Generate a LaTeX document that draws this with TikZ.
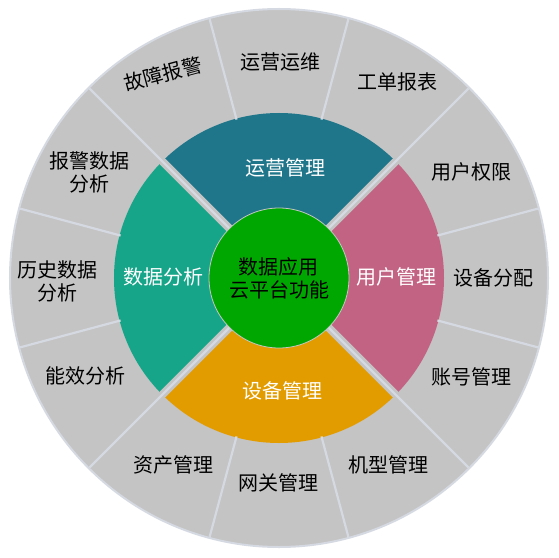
\documentclass[tikz,border=0pt]{standalone}
\usepackage{fontspec}
\setmainfont{Noto Sans CJK SC}
\usepackage{tikz}

\definecolor{ringgray}{HTML}{C4C4C4}
\definecolor{divline}{HTML}{D5D9E1}
\definecolor{opsblue}{HTML}{1F768A}
\definecolor{userpink}{HTML}{C36384}
\definecolor{devorange}{HTML}{E39C00}
\definecolor{datateal}{HTML}{17A589}
\definecolor{coregreen}{HTML}{00A700}

\begin{document}
\begin{tikzpicture}[x=1pt,y=1pt,
    outlabel/.style={font=\fontsize{20}{23}\selectfont, align=center, text=black},
    midlabel/.style={font=\fontsize{20}{23}\selectfont, text=white},
    divider/.style={draw=divline, line width=2.2pt}]
    \useasboundingbox (-279,-279) rectangle (280,278);
    % outer ring
    \fill[ringgray] (0,0) circle[radius=269];
    \draw[divline, line width=2pt] (0,0) circle[radius=269];
    % middle sectors
    \foreach \a/\c in {45/opsblue, -45/userpink, 225/devorange, 135/datateal} {
        \fill[\c] (0,0) -- (\a:165) arc[start angle=\a, end angle=\a+90, radius=165] -- cycle;
    }
    \foreach \a in {45,135,225,315} {
        \draw[ringgray, line width=8pt] (0,0) -- (\a:168);
        \draw[divider] (0,0) -- (\a:268);
    }
    \foreach \a in {15,75,105,165,195,255,285,345}
        \draw[divider] (\a:164) -- (\a:268);
    % core
    \node[circle, fill=coregreen, draw=gray!45, line width=0.8pt, minimum size=140pt,
        inner sep=0pt, align=center, font=\fontsize{20}{23}\selectfont] (core) at (0,0) {数据应用\\云平台功能};
    % middle labels
    \foreach \x/\y/\t/\n in {6/110/运营管理/ops, 117/1/用户管理/user, 3/-113/设备管理/dev, -115/1/数据分析/data}
        \node[midlabel] (\n) at (\x,\y) {\t};
    % outer labels
    \foreach \x/\y/\t [count=\i] in {1/216/运营运维, 118/196/工单报表, 192/106/用户权限, 214/0/设备分配,
        192/-99/账号管理, 109/-187/机型管理, -1/-205/网关管理, -105/-187/资产管理,
        -193/-98/能效分析, -221/-3/{历史数据\\分析}, -189/106/{报警数据\\分析}}
        \node[outlabel] (out\i) at (\x,\y) {\t};
    \node[outlabel, rotate=15] (fault) at (-116,204) {故障报警};
\end{tikzpicture}
\end{document}
